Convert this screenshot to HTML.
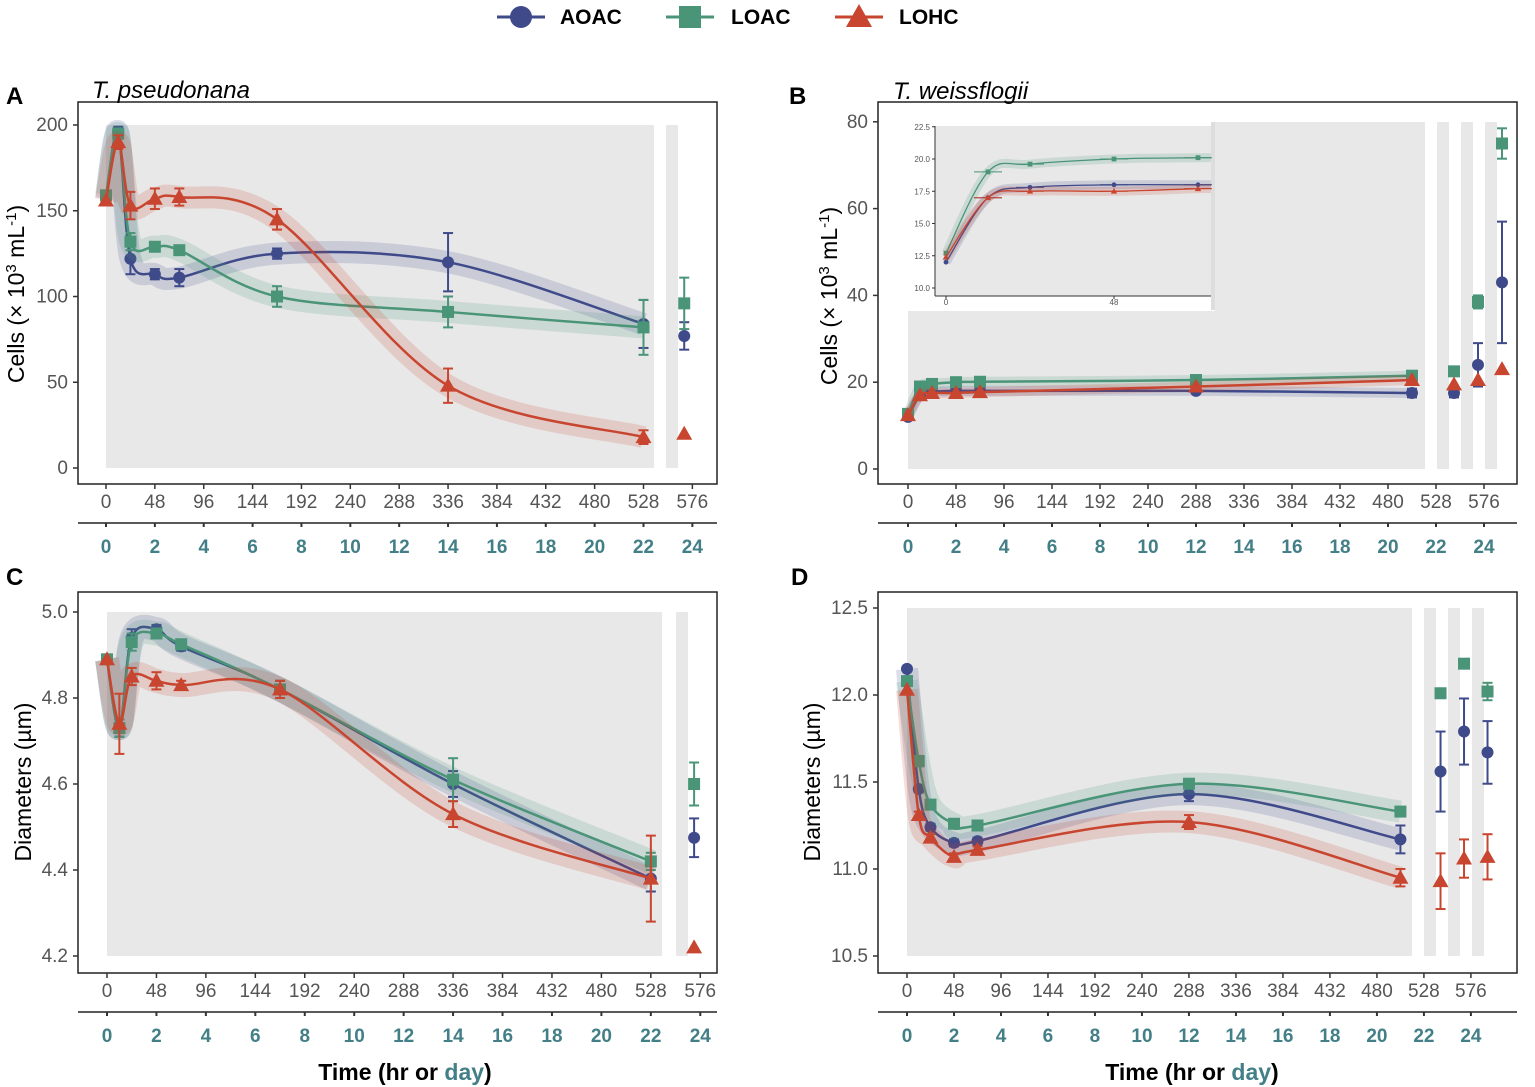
<!DOCTYPE html>
<html><head><meta charset="utf-8"><style>
body{margin:0;background:#fff;}
svg{display:block;font-family:"Liberation Sans",Arial,sans-serif;}
</style></head><body>
<svg id="c" width="1535" height="1087" viewBox="0 0 1535 1087" xmlns="http://www.w3.org/2000/svg">
<g>
<g><line x1="497" y1="17" x2="545" y2="17" stroke="#3f4a8a" stroke-width="3"/><circle cx="521" cy="17" r="11" fill="#3f4a8a"/><text x="560" y="24" font-size="21" font-weight="bold">AOAC</text></g>
<g><line x1="666" y1="17" x2="714" y2="17" stroke="#4a9478" stroke-width="3"/><rect x="679" y="6" width="22" height="22" fill="#4a9478"/><text x="731" y="24" font-size="21" font-weight="bold">LOAC</text></g>
<g><line x1="835" y1="17" x2="883" y2="17" stroke="#c8452f" stroke-width="3"/><polygon points="859,4 872,27 846,27" fill="#c8452f"/><text x="899" y="24" font-size="21" font-weight="bold">LOHC</text></g>
</g>
</svg>
<script>
const seriesNames=['AOAC','LOAC','LOHC'];
const colors=['#3f4a8a','#4a9478','#c8452f'];
// Panel A
const hoursA=[0,12,24,48,72,168,336,528];
const extraHoursA=[568];
const aoacA=[157,196,122,113,111,125,120,84];const aoacAx=[77];
const loacA=[159,195,132,129,127,100,91,82];const loacAx=[96];
const lohcA=[156,190,153,157,158,145,48,18];const lohcAx=[20];
const errA=[[0,3,9,3,5,3,17,14,8],[0,3,5,2,2,6,9,16,15],[0,4,8,6,5,6,10,4,0]];
const yTicksA=[0,50,100,150,200];
// Panel B
const hoursB=[0,12,24,48,72,288,504];
const extraHoursB=[546,570,594];
const aoacB=[12,17,17.8,18,18,18,17.5];const aoacBx=[17.5,24,43];
const loacB=[12.7,19,19.6,20,20.1,20.5,21.5];const loacBx=[22.5,38.5,75];
const lohcB=[12.4,17,17.5,17.5,17.7,19,20.5];const lohcBx=[19.5,20.5,23];
const yTicksB=[0,20,40,60,80];
const insetTicksY=[10.0,12.5,15.0,17.5,20.0,22.5];
// Panel C
const hoursC=[0,12,24,48,72,168,336,528];
const extraHoursC=[570];
const aoacC=[4.89,4.73,4.94,4.96,4.92,4.82,4.60,4.38];const aoacCx=[4.475];
const loacC=[4.89,4.73,4.93,4.95,4.925,4.82,4.61,4.42];const loacCx=[4.60];
const lohcC=[4.89,4.74,4.85,4.84,4.83,4.82,4.53,4.38];const lohcCx=[4.22];
const errC=[[0,.02,.02,.01,.01,.02,.03,.03,.045],[0,.02,.02,.01,.01,.02,.05,.02,.05],[0,.07,.02,.02,.01,.02,.03,.1,0]];
const yTicksC=[4.2,4.4,4.6,4.8,5.0];
// Panel D
const hoursD=[0,12,24,48,72,288,504];
const extraHoursD=[546,570,594];
const aoacD=[12.15,11.46,11.24,11.15,11.16,11.43,11.17];const aoacDx=[11.56,11.79,11.67];
const loacD=[12.08,11.62,11.37,11.26,11.25,11.49,11.33];const loacDx=[12.01,12.18,12.02];
const lohcD=[12.03,11.31,11.18,11.07,11.11,11.27,10.95];const lohcDx=[10.93,11.06,11.07];
const errD=[[0,.02,.02,.02,.02,.04,.08,.23,.19,.18],[0,.03,.02,.02,.02,.02,.02,0,0,.05],[0,.02,.02,.02,.02,.04,.05,.16,.11,.13]];
const yTicksD=[10.5,11.0,11.5,12.0,12.5];
const hourTicks=[0,48,96,144,192,240,288,336,384,432,480,528,576];
const dayTicks=[0,2,4,6,8,10,12,14,16,18,20,22,24];

const NS='http://www.w3.org/2000/svg';
const svg=document.getElementById('c');
function el(tag,attrs,parent,txt){const e=document.createElementNS(NS,tag);for(const k in attrs)e.setAttribute(k,attrs[k]);if(txt!==undefined)e.textContent=txt;(parent||svg).appendChild(e);return e;}
function smooth(pts){let d='M'+pts[0][0]+','+pts[0][1];for(let i=0;i<pts.length-1;i++){const p0=pts[Math.max(0,i-1)],p1=pts[i],p2=pts[i+1],p3=pts[Math.min(pts.length-1,i+2)];const c1=[p1[0]+(p2[0]-p0[0])/6,p1[1]+(p2[1]-p0[1])/6],c2=[p2[0]-(p3[0]-p1[0])/6,p2[1]-(p3[1]-p1[1])/6];d+=' C'+c1[0]+','+c1[1]+' '+c2[0]+','+c2[1]+' '+p2[0]+','+p2[1];}return d;}
function marker(g,i,x,y,s){if(i===0)el('circle',{cx:x,cy:y,r:6*s,fill:colors[i]},g);else if(i===1)el('rect',{x:x-6*s,y:y-6*s,width:12*s,height:12*s,fill:colors[i]},g);else el('polygon',{points:`${x},${y-8*s} ${x+8*s},${y+6*s} ${x-8*s},${y+6*s}`,fill:colors[i]},g);}

function panel(P){
  const g=el('g',{});
  
  
  const X=h=>P.x0+(h)*P.kx, Y=v=>P.y0+(v-P.v0)*P.ky;
  el('rect',{x:P.box[0],y:P.box[1],width:P.box[2]-P.box[0],height:P.box[3]-P.box[1],fill:'#fff',stroke:'#222','stroke-width':1.5},g);
  el('rect',{x:P.grey[0],y:P.grey[1],width:P.grey[2]-P.grey[0],height:P.grey[3]-P.grey[1],fill:'#e8e8e8'},g);
  P.strips.forEach(s=>el('rect',{x:s,y:P.grey[1],width:12,height:P.grey[3]-P.grey[1],fill:'#e8e8e8'},g));
  P.yt.forEach(v=>{const t=el('text',{x:P.box[0]-10,y:Y(v)+6,'font-size':19,fill:'#555','text-anchor':'end'},g,P.fmt(v));el('line',{x1:P.box[0]-5,x2:P.box[0],y1:Y(v),y2:Y(v),stroke:'#333','stroke-width':1.5},g);});
  hourTicks.forEach(h=>{el('line',{x1:X(h),x2:X(h),y1:P.box[3],y2:P.box[3]+5,stroke:'#333','stroke-width':1.5},g);const t=el('text',{x:X(h),y:P.box[3]+24,'font-size':19,fill:'#555','text-anchor':'middle'},g,String(h));});
  const dy=P.box[3]+39;
  el('line',{x1:P.box[0],x2:P.box[2],y1:dy,y2:dy,stroke:'#222','stroke-width':1.5},g);
  dayTicks.forEach(d=>{el('line',{x1:X(d*24),x2:X(d*24),y1:dy,y2:dy+4,stroke:'#333','stroke-width':2},g);const t=el('text',{x:X(d*24),y:dy+30,'font-size':19,'font-weight':'bold',fill:'#427f87','text-anchor':'middle'},g,String(d));});
  P.series.forEach((s,i)=>{
    const sg=el('g',{},g);
    
    
    const pts=P.hours.map((h,j)=>[X(h),Y(s.v[j])]);
    const d=smooth(pts);
    el('path',{d:d,fill:'none',stroke:colors[i],'stroke-opacity':0.18,'stroke-width':P.band,'stroke-linecap':'butt'},sg);
    el('path',{d:d,fill:'none',stroke:colors[i],'stroke-width':2.5},sg);
    const all=P.hours.map((h,j)=>[X(h),s.v[j]]).concat(P.extra.map((h,j)=>[X(h)+(P.off||0),s.x[j]]));
    all.forEach((p,j)=>{const e=(P.err&&P.err[i][j])||0;if(e>0){const y1=Y(p[1]-e),y2=Y(p[1]+e);el('line',{x1:p[0],x2:p[0],y1:y1,y2:y2,stroke:colors[i],'stroke-width':2},sg);el('line',{x1:p[0]-5,x2:p[0]+5,y1:y1,y2:y1,stroke:colors[i],'stroke-width':2},sg);el('line',{x1:p[0]-5,x2:p[0]+5,y1:y2,y2:y2,stroke:colors[i],'stroke-width':2},sg);}marker(sg,i,p[0],Y(p[1]),1);});
  });
  return {g,X,Y};
}
const f0=v=>String(v), f1=v=>v.toFixed(1);
panel({name:'panel-a',box:[78,102,717,484],grey:[106,125,654,468],strips:[666],x0:106,kx:1.018,y0:468,v0:0,ky:-1.715,yt:yTicksA,fmt:f0,hours:hoursA,extra:extraHoursA,band:22,err:errA,
 series:[{v:aoacA,x:aoacAx},{v:loacA,x:loacAx},{v:lohcA,x:lohcAx}]});
panel({name:'panel-b',box:[878,102,1517,484],grey:[908,122,1425,469],strips:[1437,1461,1485],x0:908,kx:1.0,y0:469,v0:0,ky:-4.34,yt:yTicksB,fmt:f0,hours:hoursB,extra:extraHoursB,band:10,
 err:[[0,0,0,0,0,0,1,1,5,14],[0,0,0,0,0,0,0,0,1.5,3.5],[0,0,0,0,0,0,0,0,0,0]],
 series:[{v:aoacB,x:aoacBx},{v:loacB,x:loacBx},{v:lohcB,x:lohcBx}]});
panel({name:'panel-c',box:[78,592,717,973],grey:[107,612,662,956],strips:[676],x0:107,kx:1.03,y0:956,v0:4.2,ky:-430,yt:yTicksC,fmt:f1,hours:hoursC,extra:extraHoursC,band:24,err:errC,
 series:[{v:aoacC,x:aoacCx},{v:loacC,x:loacCx},{v:lohcC,x:lohcCx}]});
panel({name:'panel-d',box:[878,592,1517,973],grey:[907,608,1412,956],strips:[1424,1448,1472],x0:907,kx:0.979,y0:956,v0:10.5,ky:-174,yt:yTicksD,fmt:f1,hours:hoursD,extra:extraHoursD,band:22,err:errD,off:-1,
 series:[{v:aoacD,x:aoacDx},{v:loacD,x:loacDx},{v:lohcD,x:lohcDx}]});

(function(){
  const g=el('g',{});
  
  
  el('rect',{x:907,y:121,width:308,height:190,fill:'#fff'},g);
  el('rect',{x:935,y:126,width:276,height:170,fill:'#e8e8e8'},g);
  el('line',{x1:935,x2:935,y1:126,y2:296,stroke:'#333'},g);
  el('line',{x1:935,x2:1211,y1:296,y2:296,stroke:'#333'},g);
  el('rect',{x:1211,y:122,width:4,height:188,fill:'#ddd'},g);
  const X=h=>946+h*3.5, Y=v=>288+(v-10)*(-12.9);
  insetTicksY.forEach(v=>{el('text',{x:930,y:Y(v)+3,'font-size':8,fill:'#555','text-anchor':'end'},g,v.toFixed(1));el('line',{x1:932,x2:935,y1:Y(v),y2:Y(v),stroke:'#333'},g);});
  [0,48].forEach(h=>{el('text',{x:X(h),y:305,'font-size':8,fill:'#555','text-anchor':'middle'},g,String(h));el('line',{x1:X(h),x2:X(h),y1:296,y2:299,stroke:'#333'},g);});
  const ser=[aoacB,loacB,lohcB];
  ser.forEach((s,i)=>{
    const hs=hoursB.slice(0,5);
    const pts=hs.map((h,j)=>[X(h),Y(s[j])]);
    pts.push([1211,Y(s[4])]);
    const d=smooth(pts);
    el('path',{d:d,fill:'none',stroke:colors[i],'stroke-opacity':0.18,'stroke-width':9},g);
    el('path',{d:d,fill:'none',stroke:colors[i],'stroke-width':1.3},g);
    hs.forEach((h,j)=>{const x=X(h),y=Y(s[j]);if(j>0)el('line',{x1:x-14,x2:x+14,y1:y,y2:y,stroke:colors[i],'stroke-width':1},g);marker(g,i,x,y,0.4);});
  });
})();

const labels=[['A',6,104,24,'bold','normal','panel-label-a'],['B',789,104,24,'bold','normal','panel-label-b'],['C',6,585,24,'bold','normal','panel-label-c'],['D',791,585,24,'bold','normal','panel-label-d'],
['T. pseudonana',92,98,24,'normal','italic','title-a'],['T. weissflogii',893,99,24,'normal','italic','title-b']];
labels.forEach(l=>{const t=el('text',{x:l[1],y:l[2],'font-size':l[3],'font-weight':l[4],'font-style':l[5],fill:'#000'},svg,l[0]);});
function ytitle(x,y,name,html){const t=el('text',{transform:`translate(${x},${y}) rotate(-90)`,'font-size':23,'text-anchor':'middle',fill:'#000'});t.innerHTML=html;}
ytitle(24,294,'y-axis-title-a','Cells (× 10<tspan baseline-shift="super" font-size="15">3</tspan> mL<tspan baseline-shift="super" font-size="15">-1</tspan>)');
ytitle(837,296,'y-axis-title-b','Cells (× 10<tspan baseline-shift="super" font-size="15">3</tspan> mL<tspan baseline-shift="super" font-size="15">-1</tspan>)');
ytitle(31,782,'y-axis-title-c','Diameters (µm)');
ytitle(820,782,'y-axis-title-d','Diameters (µm)');
function xtitle(x,name){const t=el('text',{x:x,y:1080,'font-size':23,'font-weight':'bold','text-anchor':'middle',fill:'#000'});t.innerHTML='Time (hr or <tspan fill="#427f87">day</tspan>)';}
xtitle(405,'x-axis-title-c');xtitle(1192,'x-axis-title-d');
</script>
</body></html>
